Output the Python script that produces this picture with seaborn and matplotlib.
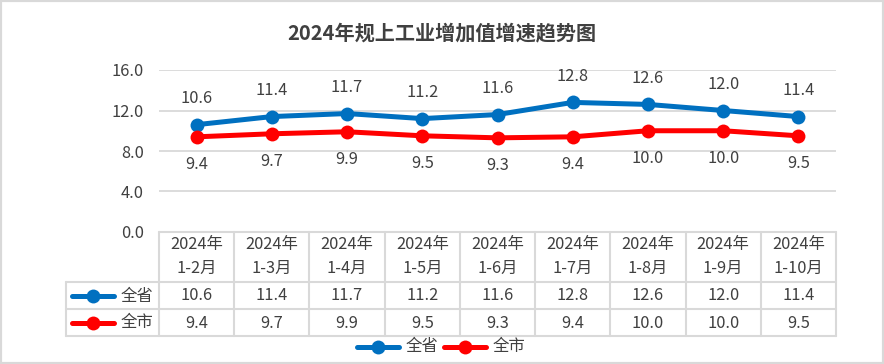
import matplotlib
matplotlib.use("Agg")
import matplotlib.pyplot as plt
import seaborn as sns
import pandas as pd
from matplotlib.lines import Line2D
from matplotlib.patches import Rectangle

categories = ["2024年\n1-2月", "2024年\n1-3月", "2024年\n1-4月", "2024年\n1-5月", "2024年\n1-6月",
              "2024年\n1-7月", "2024年\n1-8月", "2024年\n1-9月", "2024年\n1-10月"]
province = [10.6, 11.4, 11.7, 11.2, 11.6, 12.8, 12.6, 12.0, 11.4]
city = [9.4, 9.7, 9.9, 9.5, 9.3, 9.4, 10.0, 10.0, 9.5]
series_names = ["全省", "全市"]
yticks = [0.0, 4.0, 8.0, 12.0, 16.0]
title = "2024年规上工业增加值增速趋势图"

colors = {"全省": "#0070C0", "全市": "#FF0000"}
grid_c = "#D9D9D9"
text_c = "#404040"
FS = 11.8

sns.set_theme(style="white")
plt.rcParams['font.family'] = ['Noto Sans CJK SC', 'DejaVu Sans']

W, H = 884, 364
fig = plt.figure(figsize=(W / 100, H / 100), dpi=100)
fig.patch.set_facecolor("white")

def fx(x):
    return x / W

def fy(y):
    return 1 - y / H

L, R, T, B = 159, 836, 70, 232
ax = fig.add_axes([fx(L), fy(B), (R - L) / W, (B - T) / H])

df = pd.DataFrame({
    "idx": list(range(len(categories))) * 2,
    "value": province + city,
    "series": [series_names[0]] * len(province) + [series_names[1]] * len(city),
})
sns.lineplot(data=df, x="idx", y="value", hue="series", palette=colors, marker="o",
             markersize=10, linewidth=3.6, markeredgewidth=0, legend=False, ax=ax,
             zorder=3)

ax.set_xlim(-0.5, len(categories) - 0.5)
ax.set_ylim(0, 16)
ax.set_yticks(yticks)
ax.set_yticklabels([f"{v:.1f}" for v in yticks], fontsize=FS, color=text_c)
ax.tick_params(axis="y", length=0, pad=11)
ax.set_xticks([])
ax.set_xlabel("")
ax.set_ylabel("")
for s in ax.spines.values():
    s.set_visible(False)
ax.grid(axis="y", color=grid_c, linewidth=1.3)
ax.set_axisbelow(True)

for i, (p, c) in enumerate(zip(province, city)):
    ax.annotate(f"{p:.1f}", (i, p), xytext=(0, 19), textcoords="offset points",
                ha="center", va="center", fontsize=FS, color=text_c)
    ax.annotate(f"{c:.1f}", (i, c), xytext=(0, -20), textcoords="offset points",
                ha="center", va="center", fontsize=FS, color=text_c)

# title
fig.text(0.5, fy(33), title, ha="center", va="center", fontsize=14.5,
         fontweight="bold", color=text_c)

# data table
n = len(categories)
colw = (R - L) / n
xs = [L + i * colw for i in range(n + 1)]
row_y = [232, 282, 309, 336]
TL = 66
lw = 1.5

def hline(x0, x1, y):
    fig.add_artist(Line2D([fx(x0), fx(x1)], [fy(y), fy(y)], color=grid_c, lw=lw))

def vline(x, y0, y1):
    fig.add_artist(Line2D([fx(x), fx(x)], [fy(y0), fy(y1)], color=grid_c, lw=lw))

hline(L, R, row_y[0])
hline(TL, R, row_y[1])
hline(TL, R, row_y[2])
hline(TL, R, row_y[3])
for x in xs:
    vline(x, row_y[0], row_y[3])
vline(TL, row_y[1], row_y[3])

for i, cat in enumerate(categories):
    cx = xs[i] + colw / 2
    l1, l2 = cat.split("\n")
    fig.text(fx(cx), fy(245), l1, ha="center", va="center", fontsize=FS, color=text_c)
    fig.text(fx(cx), fy(268), l2, ha="center", va="center", fontsize=FS, color=text_c)
    fig.text(fx(cx), fy(296), f"{province[i]:.1f}", ha="center", va="center", fontsize=FS, color=text_c)
    fig.text(fx(cx), fy(323), f"{city[i]:.1f}", ha="center", va="center", fontsize=FS, color=text_c)

for name, yy in zip(series_names, [296, 323]):
    fig.add_artist(Line2D([fx(72), fx(114)], [fy(yy), fy(yy)], color=colors[name], lw=3.6,
                          solid_capstyle="round"))
    fig.add_artist(Line2D([fx(93)], [fy(yy)], color=colors[name], marker="o", markersize=10,
                          markeredgewidth=0))
    fig.text(fx(121), fy(yy), name, ha="left", va="center", fontsize=FS, color=text_c)

# bottom legend
for name, x0 in zip(series_names, [357, 444]):
    yy = 347
    fig.add_artist(Line2D([fx(x0), fx(x0 + 42)], [fy(yy), fy(yy)], color=colors[name], lw=3.6,
                          solid_capstyle="round"))
    fig.add_artist(Line2D([fx(x0 + 21)], [fy(yy)], color=colors[name], marker="o", markersize=10,
                          markeredgewidth=0))
    fig.text(fx(x0 + 49), fy(yy), name, ha="left", va="center", fontsize=FS, color=text_c)

# outer border
fig.add_artist(Rectangle((0, 0), 1, 1, transform=fig.transFigure, fill=False,
                         edgecolor="#D9D9D9", lw=3))

fig.savefig("out.png", dpi=100)
